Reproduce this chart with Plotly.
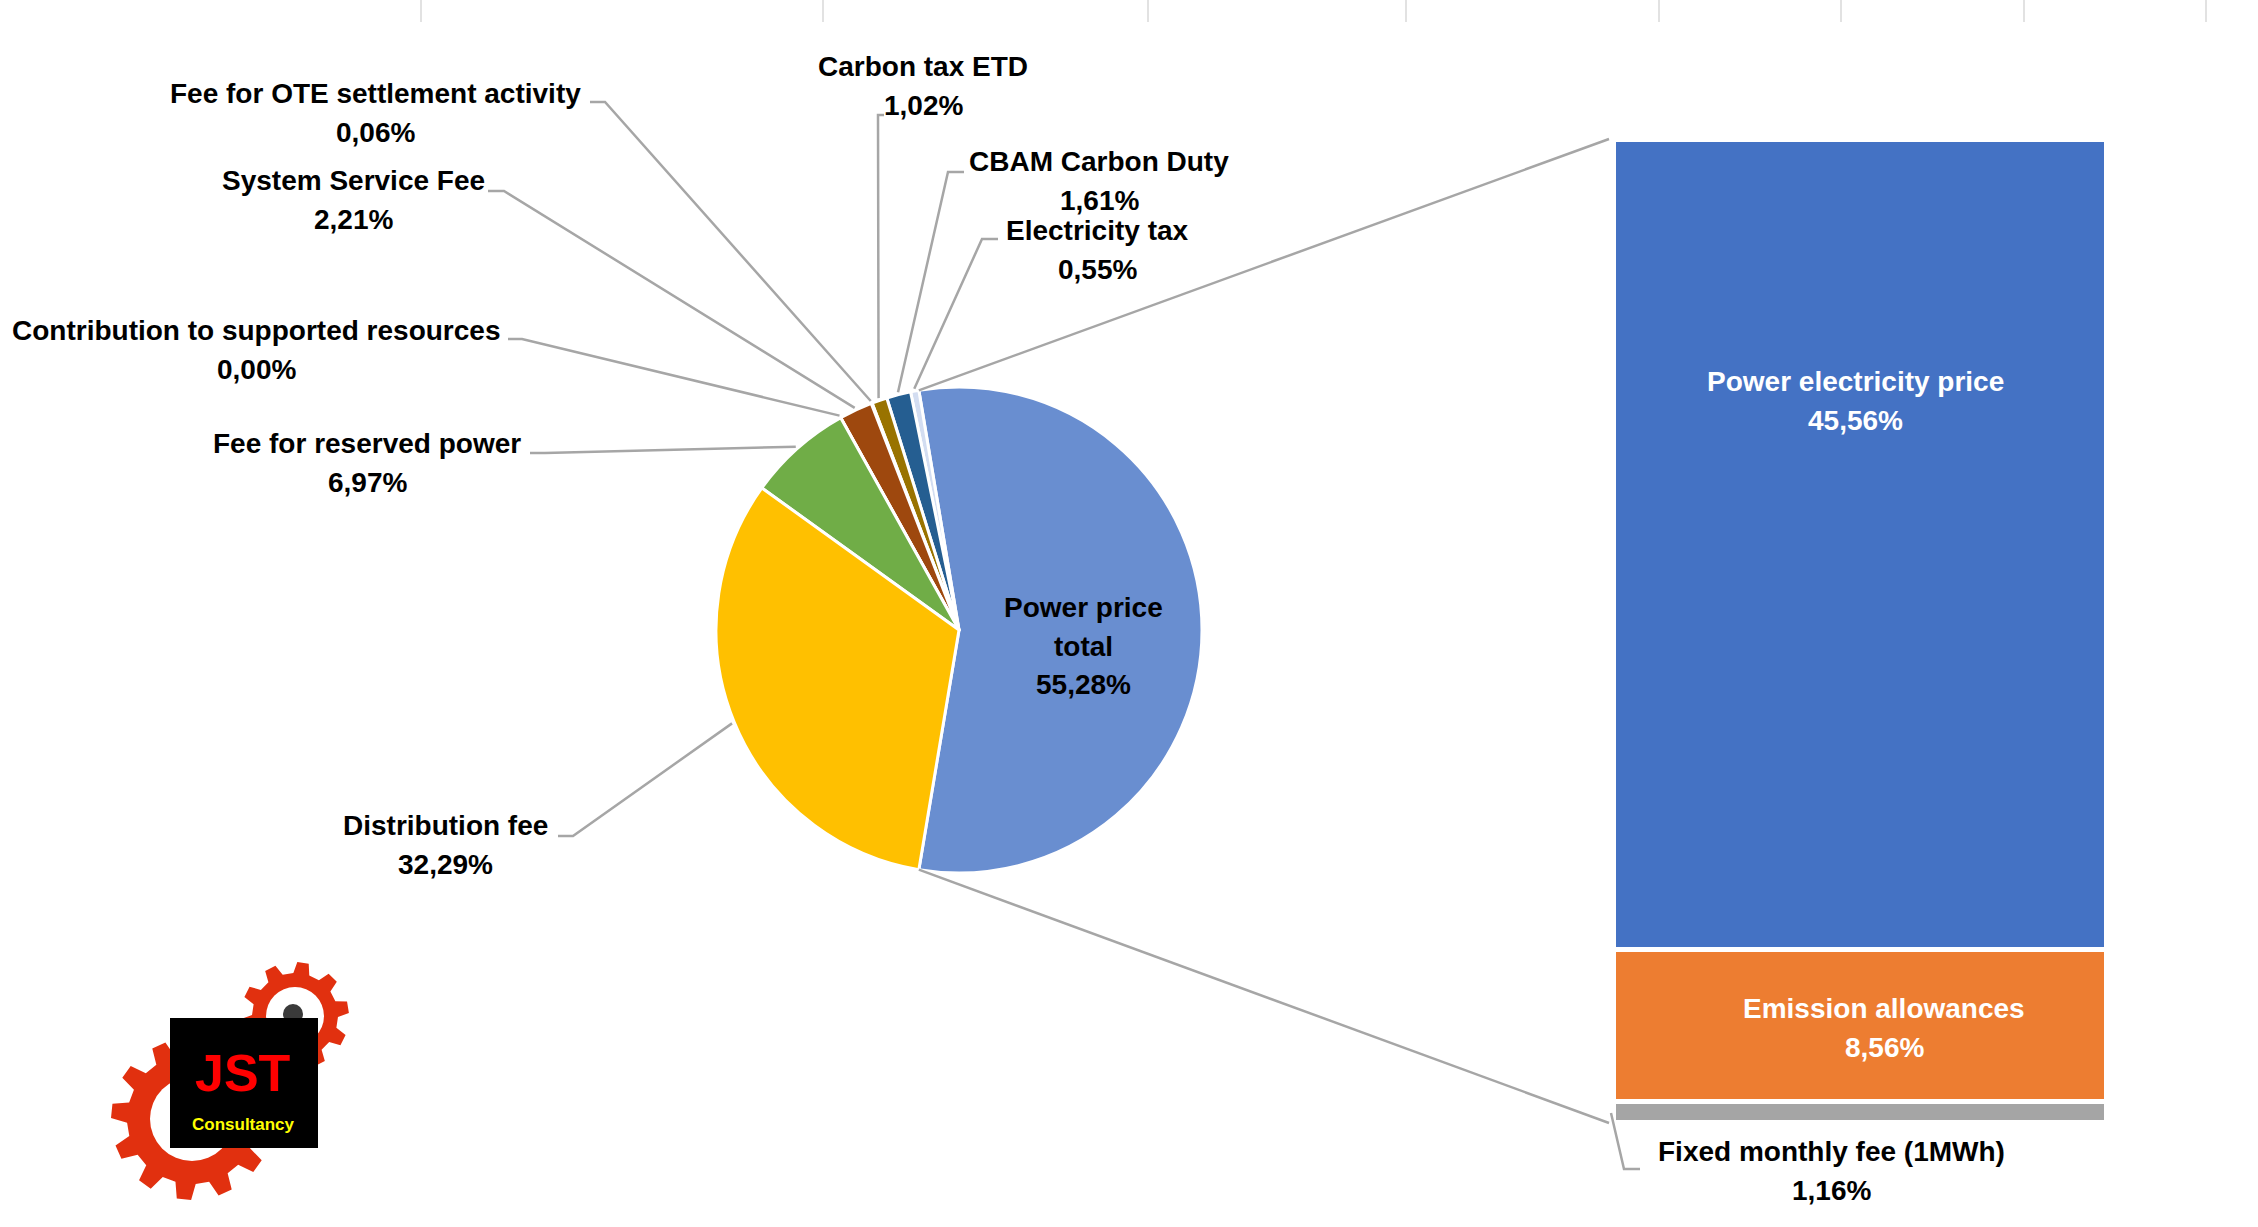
import numpy as np
import plotly.graph_objects as go

W, H = 2258, 1227

# total price split (pie), listed counterclockwise starting with the exploded slice
pie_labels = ["Power price total", "Electricity tax", "CBAM Carbon Duty", "Carbon tax ETD",
              "Fee for OTE settlement activity", "System Service Fee",
              "Contribution to supported resources", "Fee for reserved power", "Distribution fee"]
pie_values = [55.28, 0.55, 1.61, 1.02, 0.06, 2.21, 0.00, 6.97, 32.29]
pie_colors = ["#698ED0", "#D3DDF1", "#255E91", "#997300", "#636363", "#9E480E",
              "#C00000", "#70AD47", "#FFC000"]

# power price breakdown (bar of pie), bottom to top
bar_labels = ["Fixed monthly fee (1MWh)", "Emission allowances", "Power electricity price"]
bar_values = [1.16, 8.56, 45.56]
bar_colors = ["#A5A5A5", "#ED7D31", "#4472C4"]

# layout in pixels
PIE_CX, PIE_CY, PIE_R = 959, 630, 243
BAR_X0, BAR_X1, BAR_TOP, BAR_BOT = 1613, 2106, 139, 1122
FONT = "Liberation Sans, Arial, sans-serif"
LINE_C = "#A6A6A6"
LINE_GAP = 38.5

# label centre and leader elbow (pixels) for the pie labels
label_pos = {
    "Electricity tax": (1097, 250, [(998, 239), (982, 239)]),
    "CBAM Carbon Duty": (1099, 181, [(964, 172), (948, 172)]),
    "Carbon tax ETD": (923, 86, [(884, 115), (878, 115)]),
    "Fee for OTE settlement activity": (375, 113, [(590, 102), (605, 102)]),
    "System Service Fee": (353, 200, [(488, 191), (504, 191)]),
    "Contribution to supported resources": (256, 350, [(508, 339), (522, 339)]),
    "Fee for reserved power": (367, 463, [(530, 453), (545, 453)]),
    "Distribution fee": (445, 845, [(558, 836), (573, 836)]),
}


def fx(x):
    return x / W


def fy(y):
    return 1 - y / H


def pct(v):
    return f"{v:.2f}".replace(".", ",") + "%"


def path_of(points, close=False):
    s = "M " + " L ".join(f"{fx(x):.5f},{fy(y):.5f}" for x, y in points)
    return s + (" Z" if close else "")


def on_circle(angle_deg, r=PIE_R):
    a = np.radians(angle_deg)
    return PIE_CX + r * np.sin(a), PIE_CY - r * np.cos(a)


def label(x, y, text, size=28, color="black", family=FONT):
    return dict(x=fx(x), y=fy(y), xref="paper", yref="paper", text=text,
                showarrow=False, font=dict(family=family, size=size, color=color),
                xanchor="center", yanchor="middle", align="center")


def block(x, y, lines, color="black"):
    # one annotation per line so the line spacing matches the original
    top = y - LINE_GAP * (len(lines) - 1) / 2
    return [label(x, top + k * LINE_GAP, f"<b>{t}</b>", color=color) for k, t in enumerate(lines)]


total = sum(pie_values)
share = [v / total * 360 for v in pie_values]
rotation = 90 - share[0] / 2

fig = go.Figure()

fig.add_trace(go.Pie(
    labels=pie_labels,
    values=pie_values,
    sort=False,
    direction="counterclockwise",
    rotation=rotation,
    marker=dict(colors=pie_colors, line=dict(color="white", width=3)),
    textinfo="none",
    hoverinfo="label+value",
    showlegend=False,
    domain=dict(x=[fx(PIE_CX - PIE_R), fx(PIE_CX + PIE_R)],
                y=[fy(PIE_CY + PIE_R), fy(PIE_CY - PIE_R)]),
))

for name, val, col in zip(bar_labels, bar_values, bar_colors):
    fig.add_trace(go.Bar(
        x=[0], y=[val], name=name, width=1,
        marker=dict(color=col, line=dict(color="white", width=5)),
        showlegend=False, hoverinfo="name+y",
    ))

shapes = []
annotations = []

# faint cell borders along the top edge
for gx in [421, 823, 1148, 1406, 1659, 1841, 2024, 2206]:
    shapes.append(dict(type="line", xref="paper", yref="paper",
                       x0=fx(gx), x1=fx(gx), y0=fy(0), y1=fy(22),
                       line=dict(color="#D9D9D9", width=1.5)))

# pie labels with leader lines
before = 0.0
for i, (name, val) in enumerate(zip(pie_labels, pie_values)):
    if i == 0:
        continue
    mid = rotation - (before + share[i] / 2)
    before += share[i]
    lx, ly, elbow = label_pos[name]
    end = on_circle(mid, PIE_R * 1.01)
    shapes.append(dict(type="path", xref="paper", yref="paper",
                       path=path_of(elbow + [end]),
                       line=dict(color=LINE_C, width=2.5)))
    annotations += block(lx, ly, [name, pct(val)])

annotations += block(1083, 646, ["Power price", "total", pct(pie_values[0])])

# connectors between the exploded slice and the bar
shapes.append(dict(type="path", xref="paper", yref="paper",
                   path=path_of([on_circle(rotation), (BAR_X0 - 4, BAR_TOP)]),
                   line=dict(color=LINE_C, width=2.5)))
shapes.append(dict(type="path", xref="paper", yref="paper",
                   path=path_of([on_circle(rotation + share[0]), (BAR_X0 - 4, BAR_BOT + 1)]),
                   line=dict(color=LINE_C, width=2.5)))

# bar labels
annotations += block(1855, 401, [bar_labels[2], pct(bar_values[2])], color="white")
annotations += block(1884, 1028, [bar_labels[1], pct(bar_values[1])], color="white")
annotations += block(1831, 1171, [bar_labels[0], pct(bar_values[0])])
shapes.append(dict(type="path", xref="paper", yref="paper",
                   path=path_of([(1611, 1113), (1624, 1169), (1640, 1169)]),
                   line=dict(color=LINE_C, width=2.5)))


# logo: two gears behind a black badge
def gear(cx, cy, r_out, r_root, n, phase=0.0):
    pts = []
    step = 2 * np.pi / n
    for k in range(n):
        a0 = phase + k * step
        for f, r in [(-0.30, r_root), (-0.17, r_out), (0.17, r_out), (0.30, r_root)]:
            a = a0 + f * step
            pts.append((cx + r * np.sin(a), cy - r * np.cos(a)))
    return pts


def circle(cx, cy, r, color):
    return dict(type="circle", xref="paper", yref="paper",
                x0=fx(cx - r), x1=fx(cx + r), y0=fy(cy + r), y1=fy(cy - r),
                fillcolor=color, line=dict(width=0))


GEAR_C = "#E1300F"
shapes.append(dict(type="path", xref="paper", yref="paper",
                   path=path_of(gear(295, 1016, 54, 43, 10, 0.15), close=True),
                   fillcolor=GEAR_C, line=dict(width=0)))
shapes.append(circle(295, 1016, 29, "white"))
shapes.append(circle(293, 1014, 10, "#3A3A3A"))
shapes.append(dict(type="path", xref="paper", yref="paper",
                   path=path_of(gear(192, 1119, 81, 65, 12, 0.1), close=True),
                   fillcolor=GEAR_C, line=dict(width=0)))
shapes.append(circle(192, 1119, 42, "white"))
shapes.append(dict(type="rect", xref="paper", yref="paper",
                   x0=fx(170), x1=fx(318), y0=fy(1148), y1=fy(1018),
                   fillcolor="black", line=dict(width=0)))
annotations.append(label(243, 1073, "<b>JST</b>", size=52, color="#FF0000"))
annotations.append(label(243, 1124, "<b>Consultancy</b>", size=17, color="#FFFF00"))

fig.update_layout(
    width=W, height=H,
    autosize=False,
    margin=dict(l=0, r=0, t=0, b=0),
    paper_bgcolor="white",
    plot_bgcolor="white",
    barmode="stack",
    xaxis=dict(domain=[fx(BAR_X0), fx(BAR_X1)], range=[-0.5, 0.5], visible=False),
    yaxis=dict(domain=[fy(BAR_BOT), fy(BAR_TOP)], range=[0, sum(bar_values)], visible=False),
    shapes=shapes,
    annotations=annotations,
)

fig.write_html("out.html", config={"displayModeBar": False},
               post_script="document.body.style.margin = '0px';")
